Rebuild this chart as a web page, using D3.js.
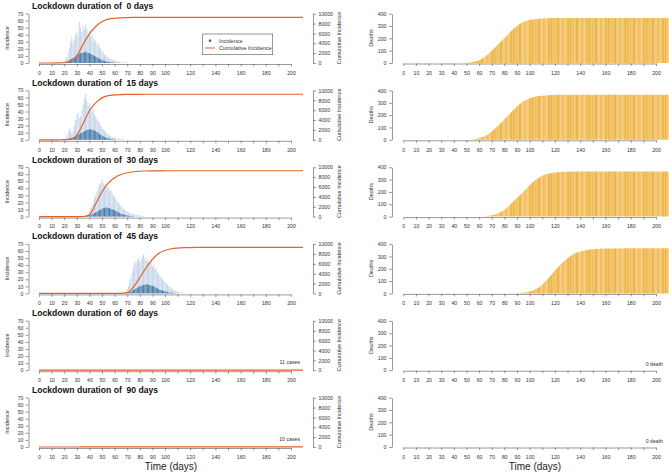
<!DOCTYPE html>
<html>
<head>
<meta charset="utf-8">
<script src="https://cdn.jsdelivr.net/npm/d3@7"></script>
<style>
    body { margin: 0; background: #fff; }
    svg { font-family: "Liberation Sans", Arial, sans-serif; display: block; }
    .title { font-weight: bold; font-size: 8.6px; white-space: pre; fill: #111; }
    .axis path, .axis line { stroke: #555; stroke-width: 0.6; }
    .axis text { font-size: 5.2px; fill: #333; }
    .lab { font-size: 5.5px; fill: #333; }
    .note { font-size: 5.2px; fill: #333; }
    .xtitle { font-size: 10px; fill: #222; }
</style>
</head>
<body>
<script>
(function() {

    //lockdown scenarios, one row each
    var durations = [0, 15, 30, 45, 60, 90];

    //days on which cumulative values were read
    var dayGrid = [0,5,10,15,20,25,30,35,40,45,50,55,60,65,70,75,80,85,90,95,100,105,110,115,120,125,130,135,140,145,150,155,160,170,180,190,200,210];

    //cumulative incidence per scenario (on dayGrid)
    var cumInc0 = [0,0,0,10,50,350,1400,3800,5900,7400,8400,8900,9080,9170,9220,9240,9250,9255,9260,9260,9260,9260,9260,9260,9260,9260,9260,9260,9260,9260,9260,9260,9260,9260,9260,9260,9260,9260];
    var cumInc15 = [0,0,0,5,20,150,900,3300,5900,7500,8500,8950,9100,9170,9200,9220,9230,9235,9240,9240,9240,9240,9240,9240,9240,9240,9240,9240,9240,9240,9240,9240,9240,9240,9240,9240,9240,9240];
    var cumInc30 = [0,0,0,0,0,0,0,20,300,2600,5000,6800,7900,8550,8900,9100,9200,9250,9280,9290,9300,9300,9300,9300,9300,9300,9300,9300,9300,9300,9300,9300,9300,9300,9300,9300,9300,9300];
    var cumInc45 = [0,0,0,0,0,0,0,0,0,0,0,0,0,10,150,1300,3200,5200,6900,8100,8700,9050,9200,9270,9300,9320,9330,9340,9350,9350,9350,9350,9350,9350,9350,9350,9350,9350];
    var cumInc60 = [0,0,1,2,3,4,5,6,7,8,9,10,10,11,11,11,11,11,11,11,11,11,11,11,11,11,11,11,11,11,11,11,11,11,11,11,11,11];
    var cumInc90 = [0,0,1,2,3,4,5,6,7,8,9,9,10,10,10,10,10,10,10,10,10,10,10,10,10,10,10,10,10,10,10,10,10,10,10,10,10,10];

    //cumulative deaths per scenario (on dayGrid)
    var deaths0 = [0,0,0,0,0,0,0,0,0,0,2,8,22,55,100,150,200,255,300,332,350,358,362,364,365,366,366,366,366,366,366,366,366,366,366,366,366,366];
    var deaths15 = [0,0,0,0,0,0,0,0,0,0,0,3,12,32,68,115,165,220,270,310,338,352,358,362,364,365,366,366,366,366,366,366,366,366,366,366,366,366];
    var deaths30 = [0,0,0,0,0,0,0,0,0,0,0,0,0,3,10,25,55,100,150,200,255,300,332,350,358,362,364,365,366,366,366,366,366,366,366,366,366,366];
    var deaths45 = [0,0,0,0,0,0,0,0,0,0,0,0,0,0,0,0,0,0,2,6,15,35,70,125,185,240,285,320,340,352,358,362,364,365,366,366,366,366];
    var deaths60 = [];
    var deaths90 = [];

    //daily incidence: first day, upper spikes and dense core
    var incStart = [18, 20, 35, 66, 0, 0];
    var coreStart = [20, 22, 38, 69, 0, 0];
    var peak0 = [1,2,3,5,8,14,22,30,37,28,33,40,45,38,58,50,44,52,47,54,49,42,46,38,40,35,30,33,26,28,22,20,17,15,12,11,9,8,6,6,5,4,4,3,3,2,2,2,1,1,1,1,1];
    var core0 = [0.5,1,2,3,4,5,6,7,8,9,11,12,13,14,14,15,15,16,15,14,14,13,12,11,10,9,8,7,6,5,4,3.5,3,2.5,2,1.5,1,1,0.8,0.6,0.5];
    var peak15 = [1,2,4,10,16,14,9,12,20,28,35,38,30,33,42,50,58,65,55,48,52,45,40,44,36,33,30,27,24,20,18,15,13,11,9,7,6,5,4,3,3,2,2,2,1,1,1,1];
    var core15 = [0.5,1,2,2,2,3,4,5,6,7,8,9,10,11,12,13,14,14,15,15,14,14,13,12,11,10,8,7,6,5,4,3,2.5,2,1.5,1,1,0.5,0.5];
    var peak30 = [1,1,2,3,5,8,12,16,20,26,30,36,40,45,48,53,47,44,46,40,42,36,38,33,30,28,25,22,20,17,15,13,11,10,8,7,6,5,4,4,3,3,2,2,2,1,1,1,1];
    var core30 = [0.5,1,1.5,2,3,4,5,6,7,8,9,10,11,12,12,13,13,12,12,11,10,10,9,8,7,6,5,4,3.5,3,2.5,2,1.5,1,1,0.8,0.6,0.5];
    var peak45 = [1,1,2,3,6,10,18,22,30,38,45,42,48,50,44,47,52,55,50,46,49,44,42,45,38,40,34,36,30,27,25,22,20,18,16,14,12,10,9,7,6,5,4,3,3,2,2,1,1,1];
    var core45 = [0.5,1,1.5,2,3,4,5,6,7,8,9,10,11,11,12,12,13,13,12,12,11,11,10,9,8,7,6,5,4.5,4,3.5,3,2.5,2,1.5,1,1,0.8,0.6,0.5];
    var peak60 = [], core60 = [], peak90 = [], core90 = [];

    //notes for the empty panels
    var caseNotes = ["", "", "", "", "11 cases", "10 cases"];
    var deathNotes = ["", "", "", "", "0 death", "0 death"];

    //tick values
    var xTicks = [0,10,20,30,40,50,60,70,80,90,100,110,120,130,140,150,160,170,180,190,200];
    var xLabels = [0,10,20,30,40,50,60,70,80,90,100,120,140,160,180,200];
    var incTicks = [0,10,20,30,40,50,60,70];
    var cumTicks = [0,2000,4000,6000,8000,10000];
    var deathTicks = [0,100,200,300,400];

    var cumList = [cumInc0, cumInc15, cumInc30, cumInc45, cumInc60, cumInc90];
    var deathList = [deaths0, deaths15, deaths30, deaths45, deaths60, deaths90];
    var peakList = [peak0, peak15, peak30, peak45, peak60, peak90];
    var coreList = [core0, core15, core30, core45, core60, core90];

    var width = 669, height = 472, rowH = 76.8;

    var svg = d3.select("body").append("svg")
        .attr("width", width)
        .attr("height", height);

    var defs = svg.append("defs");

    //striped fill for the death bars
    var pat = defs.append("pattern")
        .attr("id", "stripes")
        .attr("patternUnits", "userSpaceOnUse")
        .attr("width", 19)
        .attr("height", 10);
    pat.append("rect").attr("width", 19).attr("height", 10).attr("fill", "#f3c772");
    [[0, 1.3, "#edb445"], [3.5, 0.6, "#efba52"], [6.2, 1.6, "#ecb142"], [9.5, 1, "#f6d593"],
     [11.4, 0.8, "#eeb64b"], [14, 1.2, "#f5cf85"], [16.4, 1.4, "#edb343"]].forEach(function(s) {
        pat.append("rect").attr("x", s[0]).attr("width", s[1]).attr("height", 10).attr("fill", s[2]);
    });

    defs.append("clipPath").attr("id", "clipInc")
        .append("rect").attr("x", 39).attr("y", 0).attr("width", 264).attr("height", 70);
    defs.append("clipPath").attr("id", "clipDeath")
        .append("rect").attr("x", 403).attr("y", 0).attr("width", 266).attr("height", 70);

    //scales shared by all rows
    var xInc = d3.scaleLinear().domain([0, 200]).range([39, 291]);
    var xDeath = d3.scaleLinear().domain([0, 200]).range([403.3, 656]);
    var yInc = d3.scaleLinear().domain([0, 70]).range([63, 13.5]);
    var yCum = d3.scaleLinear().domain([0, 10000]).range([63, 13.7]);
    var yDeath = d3.scaleLinear().domain([0, 400]).range([63, 13.7]);
    var barW = xInc(1) - xInc(0);

    var cumLine = d3.line()
        .x(function(d) { return xInc(d[0]); })
        .y(function(d) { return yCum(d[1]); })
        .curve(d3.curveMonotoneX);

    var deathArea = d3.area()
        .x(function(d) { return xDeath(d[0]); })
        .y0(yDeath(0))
        .y1(function(d) { return yDeath(d[1]); })
        .curve(d3.curveMonotoneX);

    var xFormat = function(d) { return xLabels.indexOf(d) >= 0 ? d : ""; };

    durations.forEach(function(dur, i) {
        var row = svg.append("g").attr("transform", "translate(0," + (i * rowH) + ")");

        //title
        row.append("text")
            .attr("class", "title")
            .attr("x", 32)
            .attr("y", 9)
            .text("Lockdown duration of  " + dur + " days");

        //incidence bars, thin and translucent so they read as streaks
        var plot = row.append("g").attr("clip-path", "url(#clipInc)");
        plot.selectAll(".peak")
            .data(peakList[i])
            .enter()
            .append("rect")
            .attr("x", function(d, j) { return xInc(incStart[i] + j) - barW * 0.35; })
            .attr("y", function(d) { return yInc(d); })
            .attr("width", barW * 0.7)
            .attr("height", function(d) { return yInc(0) - yInc(d); })
            .attr("fill", "#7ea6cf")
            .attr("opacity", 0.5);
        plot.selectAll(".core")
            .data(coreList[i])
            .enter()
            .append("rect")
            .attr("x", function(d, j) { return xInc(coreStart[i] + j) - barW * 0.4; })
            .attr("y", function(d) { return yInc(d); })
            .attr("width", barW * 0.8)
            .attr("height", function(d) { return yInc(0) - yInc(d); })
            .attr("fill", "#2a6297")
            .attr("opacity", 0.8);

        //cumulative incidence
        plot.append("path")
            .datum(dayGrid.map(function(d, j) { return [d, cumList[i][j]]; }))
            .attr("d", cumLine)
            .attr("fill", "none")
            .attr("stroke", "#e6602c")
            .attr("stroke-width", 1.2);

        //left axes
        row.append("g").attr("class", "axis")
            .attr("transform", "translate(28.5,0)")
            .call(d3.axisLeft(yInc).tickValues(incTicks).tickSize(3).tickSizeOuter(0).tickPadding(2));
        row.append("g").attr("class", "axis")
            .attr("transform", "translate(0,64)")
            .call(d3.axisBottom(xInc).tickValues(xTicks).tickSize(2.5).tickSizeOuter(0).tickPadding(4.6)
                .tickFormat(xFormat));
        row.append("g").attr("class", "axis")
            .attr("transform", "translate(313,0)")
            .call(d3.axisRight(yCum).tickValues(cumTicks).tickSize(3).tickSizeOuter(0).tickPadding(2.5)
                .tickFormat(d3.format("d")));

        row.append("text").attr("class", "lab")
            .attr("transform", "translate(8.5,38) rotate(-90)")
            .attr("text-anchor", "middle")
            .text("Incidence");
        row.append("text").attr("class", "lab")
            .attr("transform", "translate(341,38) rotate(-90)")
            .attr("text-anchor", "middle")
            .text("Cumulative Incidence");

        if (caseNotes[i]) {
            row.append("text").attr("class", "note")
                .attr("x", 300).attr("y", 57)
                .attr("text-anchor", "end")
                .text(caseNotes[i]);
        }

        //deaths
        var dplot = row.append("g").attr("clip-path", "url(#clipDeath)");
        if (deathList[i].length) {
            dplot.append("path")
                .datum(dayGrid.map(function(d, j) { return [d, deathList[i][j]]; }))
                .attr("d", deathArea)
                .attr("fill", "url(#stripes)");
        }

        row.append("g").attr("class", "axis")
            .attr("transform", "translate(392,0)")
            .call(d3.axisLeft(yDeath).tickValues(deathTicks).tickSize(3).tickSizeOuter(0).tickPadding(2.5));
        row.append("g").attr("class", "axis")
            .attr("transform", "translate(0,63.5)")
            .call(d3.axisBottom(xDeath).tickValues(xTicks).tickSize(2.5).tickSizeOuter(0).tickPadding(5.1)
                .tickFormat(xFormat));

        row.append("text").attr("class", "lab")
            .attr("transform", "translate(372.5,38) rotate(-90)")
            .attr("text-anchor", "middle")
            .text("Deaths");

        if (deathNotes[i]) {
            row.append("text").attr("class", "note")
                .attr("x", 663).attr("y", 58.5)
                .attr("text-anchor", "end")
                .text(deathNotes[i]);
        }

        //legend in the first row only
        if (i === 0) {
            var leg = row.append("g");
            leg.append("rect")
                .attr("x", 202.7).attr("y", 34)
                .attr("width", 70).attr("height", 20.7)
                .attr("fill", "#fff").attr("stroke", "#555").attr("stroke-width", 0.6);
            leg.append("rect")
                .attr("x", 208.8).attr("y", 39.5)
                .attr("width", 2.4).attr("height", 2.4)
                .attr("fill", "#2c6599");
            leg.append("line")
                .attr("x1", 205).attr("x2", 215).attr("y1", 48).attr("y2", 48)
                .attr("stroke", "#e6602c").attr("stroke-width", 1);
            leg.append("text").attr("class", "lab")
                .attr("x", 219).attr("y", 42.6).text("Incidence");
            leg.append("text").attr("class", "lab")
                .attr("x", 219).attr("y", 49.9).text("Cumulative Incidence");
        }
    });

    //x titles under the last row
    svg.append("text").attr("class", "xtitle")
        .attr("x", 171).attr("y", 469.5)
        .attr("text-anchor", "middle")
        .text("Time (days)");
    svg.append("text").attr("class", "xtitle")
        .attr("x", 535).attr("y", 469.5)
        .attr("text-anchor", "middle")
        .text("Time (days)");

})();
</script>
</body>
</html>
